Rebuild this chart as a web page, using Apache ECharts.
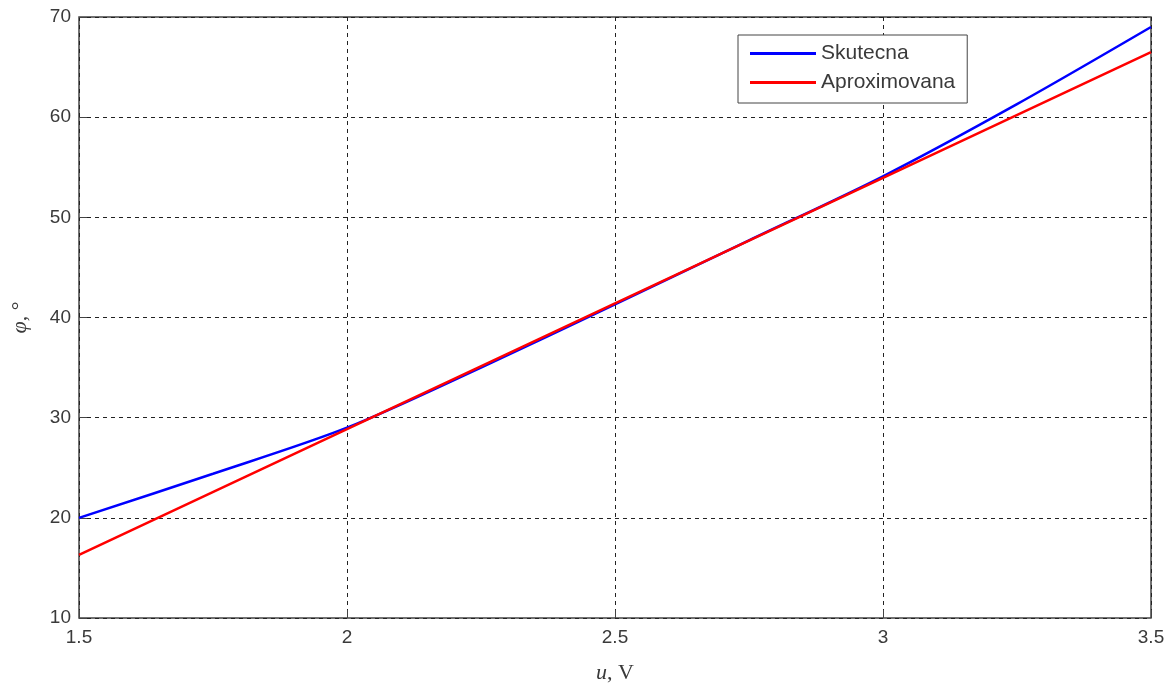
<!DOCTYPE html>
<html>
<head>
<meta charset="utf-8">
<script src="https://cdn.jsdelivr.net/npm/echarts@6/dist/echarts.min.js"></script>
<style>
  html, body { margin: 0; padding: 0; background: #fff; }
</style>
</head>
<body>
<div id="chart" style="width: 1176px;height:688px;"></div>
<script>
// napeti u, V
const uSkut = [1.5, 1.75, 2, 2.25, 2.5, 2.75, 3, 3.25, 3.5]
// uhel phi, stupne
const phiSkut = [20, 24.4, 29, 35.0, 41.3, 47.7, 54.1, 61.3, 69]
const uAprox = [1.5, 2, 2.5, 3, 3.5]
const phiAprox = [16.3, 28.85, 41.4, 53.95, 66.5]
const xTicks = [1.5, 2, 2.5, 3, 3.5]
const yTicks = [10, 20, 30, 40, 50, 60, 70]

const zip = (xs, ys) => xs.map((x, i) => [x, ys[i]])

const chart = echarts.init(document.getElementById('chart'))
const textColor = '#3a3a3a'
const nameStyle = {
  fontFamily: 'Liberation Serif',
  fontSize: 22,
  color: textColor,
  rich: {
    i: { fontFamily: 'Liberation Serif', fontStyle: 'italic', fontSize: 22, color: textColor }
  }
}
chart.setOption({
  animation: false,
  color: ['#0000ff', '#ff0000'],
  grid: {
    left: 79,
    right: 25,
    top: 17,
    bottom: 70,
    outerBoundsMode: 'none',
    show: true,
    borderColor: '#444',
    borderWidth: 1.5
  },
  legend: {
    orient: 'vertical',
    left: 738,
    top: 35,
    padding: [8, 12, 10, 12],
    itemGap: 8,
    itemWidth: 66,
    itemHeight: 3,
    icon: 'rect',
    borderColor: '#444',
    borderWidth: 1,
    backgroundColor: '#fff',
    data: ['Skutecna', 'Aproximovana'],
    textStyle: {
      fontFamily: 'Liberation Sans, Arial',
      fontSize: 21,
      color: textColor
    }
  },
  xAxis: {
    type: 'value',
    min: xTicks[0],
    max: xTicks[xTicks.length - 1],
    interval: 0.5,
    name: '{i|u}, V',
    nameLocation: 'middle',
    nameGap: 44,
    nameTextStyle: nameStyle,
    axisLine: { show: false },
    axisTick: { show: true, inside: true, length: 8, lineStyle: { color: '#444' } },
    axisLabel: {
      margin: 10,
      fontFamily: 'Liberation Sans, Arial',
      fontSize: 19,
      color: textColor,
      formatter: v => String(v)
    },
    splitLine: {
      lineStyle: { color: '#222', type: [4, 4], width: 1 }
    }
  },
  yAxis: {
    type: 'value',
    min: yTicks[0],
    max: yTicks[yTicks.length - 1],
    interval: 10,
    name: '{i|φ}, °',
    nameLocation: 'middle',
    nameGap: 48,
    nameRotate: 90,
    nameTextStyle: nameStyle,
    axisLine: { show: false },
    axisTick: { show: true, inside: true, length: 8, lineStyle: { color: '#444' } },
    axisLabel: {
      margin: 8,
      fontFamily: 'Liberation Sans, Arial',
      fontSize: 19,
      color: textColor
    },
    splitLine: {
      lineStyle: { color: '#222', type: [4, 4], width: 1 }
    }
  },
  series: [
    {
      name: 'Skutecna',
      type: 'line',
      smooth: 0.3,
      symbol: 'none',
      lineStyle: { width: 2.5, color: '#0000ff' },
      data: zip(uSkut, phiSkut)
    },
    {
      name: 'Aproximovana',
      type: 'line',
      symbol: 'none',
      lineStyle: { width: 2.5, color: '#ff0000' },
      data: zip(uAprox, phiAprox)
    }
  ]
})
</script>
</body>
</html>
